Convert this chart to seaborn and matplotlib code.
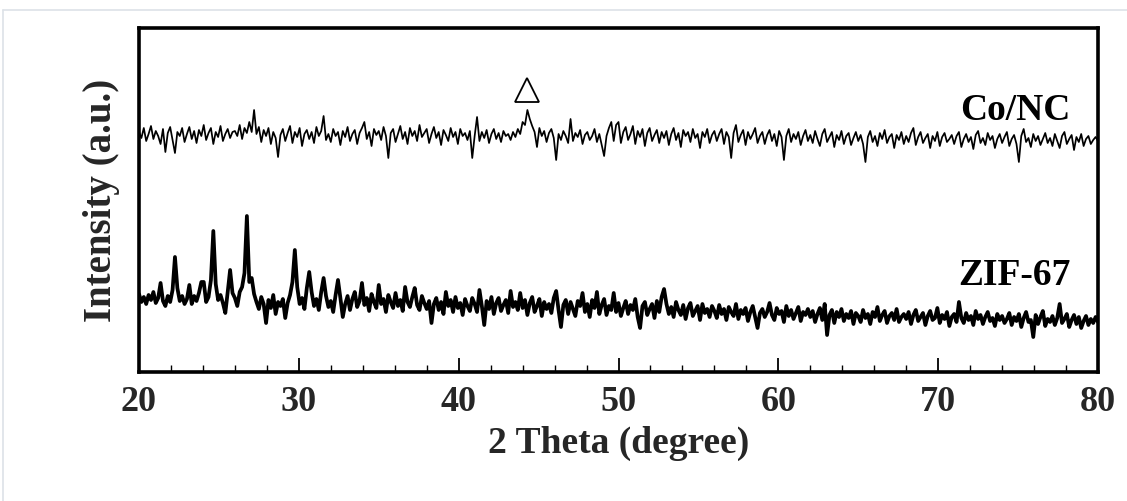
import numpy as np
import pandas as pd
import matplotlib
matplotlib.use("Agg")
import matplotlib.pyplot as plt
import seaborn as sns
from matplotlib.ticker import MultipleLocator

# 2-theta scan grid (degrees)
two_theta_start = 20.0
two_theta_step = 0.15
n_points = 401

# Co/NC pattern, intensity (a.u., offset for stacking)
co_nc = [
    240, 234, 244, 231, 238, 246, 233, 241, 236, 228, 243, 220, 239, 245, 232, 219, 240, 236, 244, 230,
    238, 245, 233, 241, 229, 242, 236, 247, 232, 239, 244, 228, 240, 235, 246, 231, 238, 243, 234, 240,
    241, 236, 247, 233, 244, 239, 250, 240, 262, 238, 245, 230, 242, 236, 244, 228, 240, 234, 215, 237,
    243, 231, 239, 246, 229, 240, 235, 244, 226, 238, 242, 233, 240, 229, 245, 236, 241, 256, 232, 238,
    230, 243, 236, 240, 227, 241, 235, 245, 231, 238, 242, 228, 239, 244, 250, 233, 240, 226, 243, 237,
    241, 232, 245, 236, 214, 239, 243, 230, 238, 246, 233, 240, 228, 244, 236, 241, 231, 247, 235, 239,
    243, 229, 238, 245, 234, 240, 227, 242, 237, 231, 244, 235, 240, 228, 243, 236, 239, 232, 241, 214,
    236, 255, 231, 240, 234, 242, 229, 238, 243, 233, 239, 230, 241, 236, 238, 232, 240, 235, 243, 238,
    250, 247, 262, 253, 246, 240, 225, 244, 236, 241, 230, 239, 243, 234, 212, 238, 232, 241, 236, 229,
    253, 231, 239, 235, 242, 228, 237, 240, 232, 236, 243, 230, 238, 227, 216, 236, 244, 250, 231, 247,
    250, 229, 240, 245, 232, 238, 246, 228, 241, 235, 243, 226, 239, 244, 231, 237, 242, 229, 240, 234,
    241, 227, 238, 244, 232, 239, 225, 242, 236, 240, 230, 243, 234, 238, 224, 240, 235, 243, 229, 237,
    241, 231, 238, 243, 228, 240, 235, 214, 239, 247, 230, 237, 242, 227, 240, 233, 238, 244, 229, 236,
    240, 228, 237, 242, 231, 238, 226, 241, 235, 212, 236, 243, 230, 238, 233, 240, 227, 236, 242, 231,
    237, 229, 241, 233, 226, 238, 243, 230, 235, 240, 225, 237, 232, 241, 228, 236, 239, 227, 234, 240,
    231, 237, 228, 210, 235, 241, 230, 236, 226, 239, 233, 242, 229, 235, 238, 224, 237, 232, 240, 228,
    236, 230, 239, 244, 227, 235, 240, 229, 234, 238, 224, 236, 231, 240, 226, 235, 239, 230, 233, 237,
    228, 236, 240, 225, 233, 238, 230, 235, 223, 237, 241, 229, 234, 227, 239, 232, 236, 224, 233, 238,
    229, 235, 240, 226, 233, 237, 228, 210, 236, 243, 230, 234, 225, 238, 231, 236, 227, 233, 239, 229,
    234, 226, 238, 231, 224, 236, 240, 228, 233, 237, 222, 235, 230, 238, 226, 233, 236, 228, 232, 235,
    231,
]

# ZIF-67 pattern, intensity (a.u.)
zif_67 = [
    78, 70, 75, 68, 77, 72, 80, 69, 74, 89, 71, 66, 76, 70, 82, 115, 84, 71, 76, 68,
    73, 87, 68, 76, 71, 79, 90, 90, 70, 75, 92, 141, 88, 72, 77, 69, 59, 80, 102, 79,
    74, 66, 80, 85, 99, 156, 90, 94, 78, 70, 63, 75, 68, 49, 72, 64, 77, 58, 70, 66,
    73, 54, 69, 77, 90, 122, 85, 68, 74, 63, 84, 100, 80, 66, 73, 62, 80, 94, 76, 65,
    71, 60, 77, 92, 74, 55, 68, 76, 62, 73, 80, 65, 71, 89, 67, 74, 61, 78, 70, 64,
    87, 68, 73, 60, 77, 70, 64, 79, 66, 72, 61, 85, 70, 65, 75, 84, 67, 62, 76, 69,
    63, 71, 49, 68, 74, 62, 70, 58, 80, 66, 72, 60, 75, 64, 69, 57, 73, 66, 61, 74,
    68, 60, 82, 66, 47, 71, 63, 75, 58, 69, 74, 61, 67, 72, 59, 81, 65, 70, 62, 79,
    64, 72, 57, 69, 75, 60, 66, 73, 56, 70, 63, 68, 59, 74, 81, 62, 45, 67, 72, 58,
    70, 63, 56, 71, 66, 79, 60, 68, 55, 72, 64, 80, 58, 67, 73, 57, 66, 62, 79, 60,
    69, 56, 64, 71, 58, 67, 62, 73, 55, 44, 66, 70, 57, 63, 68, 54, 71, 60, 75, 83,
    68, 58, 65, 55, 70, 62, 57, 67, 53, 64, 69, 56, 61, 66, 52, 68, 59, 63, 55, 66,
    61, 54, 67, 58, 63, 52, 65, 60, 56, 68, 53, 62, 58, 64, 51, 60, 66, 55, 44, 59,
    63, 55, 60, 69, 57, 52, 64, 58, 61, 50, 66, 56, 62, 53, 59, 65, 51, 60, 57, 63,
    55, 61, 50, 58, 64, 52, 68, 37, 57, 62, 49, 60, 55, 63, 51, 58, 54, 61, 48, 59,
    56, 50, 62, 54, 58, 48, 60, 55, 65, 51, 57, 61, 49, 56, 59, 52, 63, 50, 55, 58,
    53, 60, 48, 57, 62, 51, 55, 59, 47, 56, 61, 52, 54, 64, 49, 57, 53, 60, 46, 55,
    58, 50, 70, 54, 49, 59, 52, 56, 47, 61, 53, 57, 48, 55, 60, 51, 54, 46, 58, 52,
    56, 49, 53, 59, 47, 55, 51, 58, 45, 54, 60, 50, 52, 35, 57, 48, 55, 61, 46, 53,
    50, 56, 47, 54, 68, 49, 53, 58, 45, 52, 57, 48, 55, 44, 51, 56, 47, 53, 49, 55,
    50,
]

# Co reflection marker (2-theta, intensity) and series labels
co_peak_marker = (44.3, 282)
series_labels = ["Co/NC", "ZIF-67"]
label_positions = [(78.3, 252), (78.3, 87)]

x_ticks = [20, 30, 40, 50, 60, 70, 80]
x_label = "2 Theta (degree)"
y_label = "Intensity (a.u.)"

two_theta = np.round(two_theta_start + two_theta_step * np.arange(n_points), 2)
df = pd.DataFrame({"two_theta": two_theta, "Co/NC": co_nc, "ZIF-67": zif_67})

sns.set_theme(style="white")
plt.rcParams["font.family"] = ["Liberation Serif", "DejaVu Serif"]
plt.rcParams["font.weight"] = "bold"

fig = plt.figure(figsize=(11.27, 5.01), dpi=100)
ax = fig.add_axes([139 / 1127, 1 - 372 / 501, (1098 - 139) / 1127, (372 - 28) / 501])

sns.lineplot(data=df, x="two_theta", y="Co/NC", ax=ax, color="black", linewidth=1.25)
sns.lineplot(data=df, x="two_theta", y="ZIF-67", ax=ax, color="black", linewidth=2.7)

ax.plot([co_peak_marker[0]], [co_peak_marker[1]], marker="^", markersize=17,
        markerfacecolor="white", markeredgecolor="black", markeredgewidth=1.3,
        linestyle="none")

for text, (tx, ty) in zip(series_labels, label_positions):
    ax.text(tx, ty, text, ha="right", va="baseline", fontsize=27,
            fontweight="bold", color="black")

ax.set_xlim(20, 80)
ax.set_ylim(0, 344)
ax.set_xticks(x_ticks)
ax.set_xticklabels([str(t) for t in x_ticks])
ax.xaxis.set_minor_locator(MultipleLocator(2))
ax.set_yticks([])
ax.tick_params(axis="x", which="major", direction="in", length=10, width=1.3,
               labelsize=26, pad=10, bottom=True, top=False, color="black")
ax.tick_params(axis="x", which="minor", direction="in", length=5, width=1.0,
               bottom=True, top=False, color="black")
for lab in ax.get_xticklabels():
    lab.set_fontweight("bold")

ax.set_xlabel(x_label, fontsize=27, fontweight="bold", labelpad=5)
ax.set_ylabel(y_label, fontsize=28, fontweight="bold", labelpad=14)

for spine in ax.spines.values():
    spine.set_visible(True)
    spine.set_color("black")
    spine.set_linewidth(2.6)

# light outer frame
fig.add_artist(plt.Line2D([3 / 1127, 1.0], [1 - 10 / 501, 1 - 10 / 501],
                          transform=fig.transFigure, color="#dde2e8", linewidth=1.2))
fig.add_artist(plt.Line2D([3 / 1127, 3 / 1127], [0, 1 - 10 / 501],
                          transform=fig.transFigure, color="#dde2e8", linewidth=1.2))

fig.savefig("out.png", dpi=100, facecolor="white")
